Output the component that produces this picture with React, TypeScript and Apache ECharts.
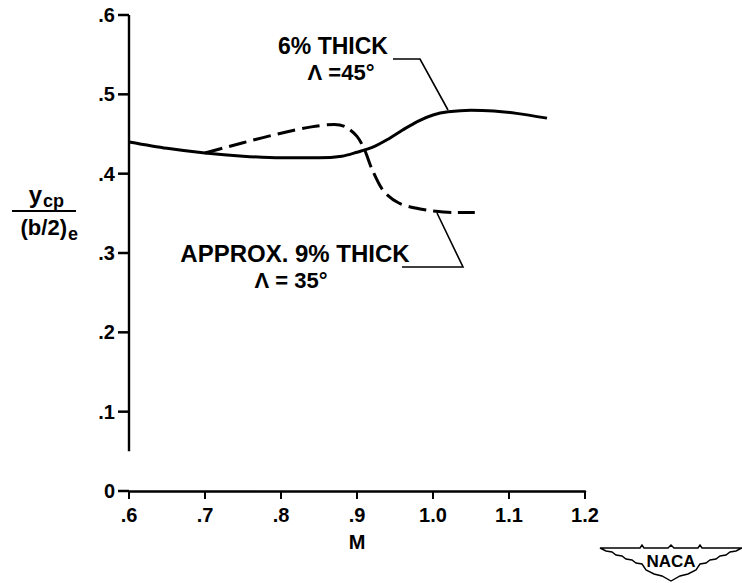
import React, { useEffect, useRef } from "react";
import * as echarts from "echarts";

// ---- data ----
const xTickValues = [0.6, 0.7, 0.8, 0.9, 1.0, 1.1, 1.2];
const xTickLabels = [".6", ".7", ".8", ".9", "1.0", "1.1", "1.2"];
const yTickValues = [0, 0.1, 0.2, 0.3, 0.4, 0.5, 0.6];
const yTickLabels = ["0", ".1", ".2", ".3", ".4", ".5", ".6"];

// 6% thick, sweep 45 deg (solid)
const solidMach = [0.6, 0.65, 0.7, 0.75, 0.8, 0.85, 0.88, 0.9, 0.92, 0.94, 0.96, 0.98, 1.0, 1.02, 1.05, 1.08, 1.11, 1.15];
const solidYcp = [0.44, 0.432, 0.426, 0.422, 0.42, 0.42, 0.422, 0.427, 0.433, 0.443, 0.455, 0.466, 0.474, 0.478, 0.48, 0.479, 0.476, 0.47];

// approx. 9% thick, sweep 35 deg (dashed)
const dashedMach = [0.7, 0.75, 0.8, 0.84, 0.87, 0.885, 0.9, 0.91, 0.92, 0.935, 0.955, 0.98, 1.0, 1.03, 1.055];
const dashedYcp = [0.426, 0.439, 0.451, 0.459, 0.462, 0.459, 0.447, 0.43, 0.405, 0.378, 0.363, 0.356, 0.353, 0.351, 0.351];

// broken y-axis line (stops above zero)
const yAxisStubMach = [0.6, 0.6];
const yAxisStubYcp = [0.05, 0.6];

const FONT = "'Liberation Sans', Arial, sans-serif";

const logoPath =
  "M0,3 L40,3 L42,0 L44,3 L68,3 L71,0 L74,3 L98,3 L100,0 L102,3 L142,3 " +
  "L136,6 L130,7 L126,10 L120,11 L116,14 L110,15 L106,18 L100,19 " +
  "L96,25 L88,29 L80,31 L71,36 L62,31 L54,29 L46,25 L42,19 " +
  "L36,18 L32,15 L26,14 L22,11 L16,10 L12,7 L6,6 Z";

let registered = false;
function ensureShape() {
  if (registered) return;
  echarts.graphic.registerShape("nacaLogo", echarts.graphic.extendPath(logoPath, {}) as any);
  registered = true;
}

function zip(a: number[], b: number[]) {
  return a.map((v, i) => [v, b[i]]);
}

export default function App() {
  const ref = useRef<HTMLDivElement>(null);

  useEffect(() => {
    if (!ref.current) return;
    ensureShape();
    const chart = echarts.init(ref.current, undefined, { renderer: "svg" });
    const fmtX = (v: number) => {
      const i = xTickValues.findIndex((t) => Math.abs(t - v) < 1e-6);
      return i >= 0 ? xTickLabels[i] : "";
    };
    const fmtY = (v: number) => {
      const i = yTickValues.findIndex((t) => Math.abs(t - v) < 1e-6);
      return i >= 0 ? yTickLabels[i] : "";
    };
    const txt = (text: string, x: number, y: number, size: number, align = "center", extra: any = {}) => ({
      type: "text",
      x,
      y,
      style: {
        text,
        fill: "#000",
        font: `bold ${size}px ${FONT}`,
        textAlign: align,
        textVerticalAlign: "middle",
        ...extra,
      },
    });
    chart.setOption({
      animation: false,
      backgroundColor: "#fff",
      grid: { left: 129, right: 157, top: 15, bottom: 92, containLabel: false },
      xAxis: {
        type: "value",
        min: 0.6,
        max: 1.2,
        interval: 0.1,
        axisLine: { show: true, lineStyle: { color: "#000", width: 2.5 } },
        axisTick: { show: true, length: 8, lineStyle: { color: "#000", width: 2 } },
        axisLabel: { formatter: fmtX, color: "#000", fontFamily: FONT, fontWeight: "bold", fontSize: 20, margin: 14 },
        splitLine: { show: false },
      },
      yAxis: {
        type: "value",
        min: 0,
        max: 0.6,
        interval: 0.1,
        axisLine: { show: false },
        axisTick: { show: false },
        axisLabel: { formatter: fmtY, color: "#000", fontFamily: FONT, fontWeight: "bold", fontSize: 20, margin: 14 },
        splitLine: { show: false },
      },
      series: [
        {
          // broken y-axis line
          type: "line",
          data: zip(yAxisStubMach, yAxisStubYcp),
          symbol: "none",
          lineStyle: { color: "#000", width: 2.4 },
          silent: true,
        },
        {
          // y-axis ticks pointing left, placed through the axis scales
          type: "custom",
          data: yTickValues.map((v) => [xTickValues[0], v]),
          clip: false,
          silent: true,
          z: 10,
          renderItem: (params: any, api: any) => {
            const p = api.coord([api.value(0), api.value(1)]);
            return {
              type: "line",
              shape: { x1: p[0] - 11, y1: p[1], x2: p[0], y2: p[1] },
              style: { stroke: "#000", lineWidth: 2.5 },
            };
          },
        },
        {
          type: "line",
          name: "Approx. 9% thick",
          data: zip(dashedMach, dashedYcp),
          symbol: "none",
          smooth: 0.3,
          lineStyle: { color: "#000", width: 3, type: [18, 7] },
        },
        {
          type: "line",
          name: "6% thick",
          data: zip(solidMach, solidYcp),
          symbol: "none",
          smooth: 0.3,
          lineStyle: { color: "#000", width: 3 },
        },
      ],
      graphic: [
        // y axis title: y_cp / (b/2)_e
        txt("y", 42, 194, 24, "right"),
        txt("cp", 43, 201, 18, "left"),
        { type: "line", shape: { x1: 12, y1: 211, x2: 76, y2: 211 }, style: { stroke: "#000", lineWidth: 2 } },
        txt("(b/2)", 67, 227, 22, "right"),
        txt("e", 68, 234, 18, "left"),
        // x axis title
        txt("M", 357, 542, 20),
        // annotations
        txt("6% THICK", 333, 46, 23),
        txt("Λ =45°", 341, 72, 22),
        { type: "polyline", shape: { points: [[393, 59], [420, 59], [448, 110]] }, style: { stroke: "#000", fill: "none", lineWidth: 1.6 } },
        txt("APPROX. 9% THICK", 295, 253, 24),
        txt("Λ = 35°", 291, 280, 22),
        { type: "polyline", shape: { points: [[402, 267], [463, 267], [437, 213]] }, style: { stroke: "#000", fill: "none", lineWidth: 1.6 } },
        // NACA logo
        { type: "nacaLogo", x: 600, y: 545, style: { fill: "#fff", stroke: "#000", lineWidth: 1.4 } },
        txt("NACA", 671, 561, 17),
      ],
    });
    return () => chart.dispose();
  }, []);

  return (
    <div
      ref={ref}
      style={{ position: "fixed", left: 0, top: 0, width: 742, height: 583, background: "#fff" }}
    />
  );
}
